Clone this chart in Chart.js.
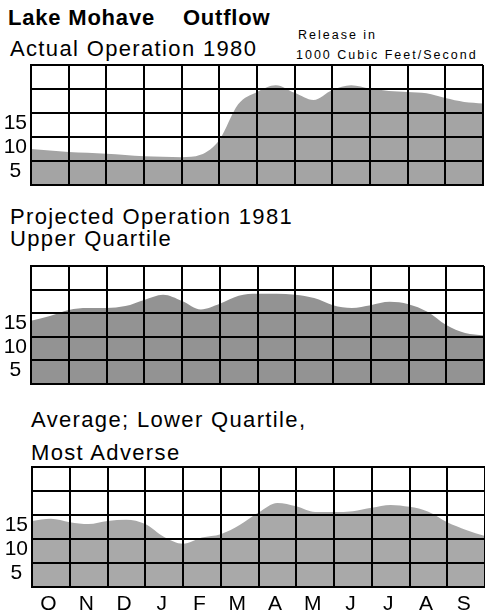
<!DOCTYPE html>
<html>
<head>
<meta charset="utf-8">
<script src="https://cdn.jsdelivr.net/npm/chart.js@4/dist/chart.umd.min.js"></script>
<style>
  html, body { margin: 0; padding: 0; background: #fff; }
  body { width: 485px; height: 616px; position: relative; overflow: hidden; font-family: "Liberation Sans", Arial, sans-serif; color: #000; }
  .t { position: absolute; white-space: pre; font-size: 22px; line-height: 22px; letter-spacing: 1.35px; }
  .b { font-weight: bold; letter-spacing: 0.8px; }
  .s { position: absolute; white-space: pre; font-size: 12.5px; line-height: 12.5px; letter-spacing: 2px; }
  canvas { position: absolute; left: 0; }
</style>
</head>
<body>
<div class="t b" style="left:8px; top:7px;">Lake Mohave <span style="margin-left:21px">Outflow</span></div>
<div class="t" style="left:10px; top:38px;">Actual Operation 1980</div>
<div class="s" style="left:298px; top:29px;">Release in</div>
<div class="s" style="left:296px; top:49px;">1000 Cubic Feet/Second</div>
<div class="t" style="left:10px; top:206px;">Projected Operation 1981</div>
<div class="t" style="left:10px; top:228px;">Upper Quartile</div>
<div class="t" style="left:31px; top:409px;">Average; Lower Quartile,</div>
<div class="t" style="left:31px; top:442px;">Most Adverse</div>

<canvas id="c1" width="485" height="140" style="top:55px;"></canvas>
<canvas id="c2" width="485" height="138" style="top:256px;"></canvas>
<canvas id="c3" width="485" height="159" style="top:457px;"></canvas>

<script>
// ---- data (release in 1000 cfs, sampled every half month from Oct 1 to Sep 30) ----
const months = ['O', 'N', 'D', 'J', 'F', 'M', 'A', 'M', 'J', 'J', 'A', 'S'];
const halfMonths = [0, 0.5, 1, 1.5, 2, 2.5, 3, 3.5, 4, 4.5, 5, 5.5, 6, 6.5, 7, 7.5, 8, 8.5, 9, 9.5, 10, 10.5, 11, 11.5, 12];
const actual1980 = [7.5, 7.2, 6.9, 6.7, 6.5, 6.25, 6.0, 5.9, 5.8, 6.3, 9.4, 16.8, 19.4, 20.8, 19.2, 17.7, 19.8, 20.8, 20.1, 19.6, 19.4, 19.1, 18.1, 17.3, 17.0];
const upperQuartile1981 = [13.4, 14.4, 15.7, 16.1, 16.1, 16.5, 17.8, 18.9, 17.6, 15.8, 17.0, 18.7, 19.1, 19.1, 18.9, 18.2, 16.7, 16.1, 16.7, 17.4, 16.9, 15.3, 12.5, 10.8, 10.3];
const averageLowerAdverse1981 = [13.75, 14.2, 13.5, 13.1, 13.75, 14.0, 13.1, 10.4, 9.0, 10.3, 11.0, 12.9, 15.5, 17.5, 16.8, 15.6, 15.6, 15.8, 16.5, 17.1, 16.7, 15.7, 13.5, 11.9, 10.6];
const yGridValues = [0, 5, 10, 15, 20, 25];
const yTickLabels = [5, 10, 15];
const monthGridValues = [0, 1, 2, 3, 4, 5, 6, 7, 8, 9, 10, 11, 12];

Chart.defaults.font.family = '"Liberation Sans", Arial, sans-serif';
Chart.defaults.color = '#000';

function noPad(s) { s.paddingTop = 0; s.paddingBottom = 0; s.paddingLeft = 0; s.paddingRight = 0; }

function makePanel(id, values, cfg) {
  const pts = halfMonths.map((m, i) => ({ x: m, y: values[i] }));
  return new Chart(document.getElementById(id), {
    type: 'line',
    data: {
      datasets: [{
        data: pts,
        fill: 'origin',
        backgroundColor: cfg.fill,
        borderWidth: 0,
        borderColor: 'rgba(0,0,0,0)',
        pointRadius: 0,
        tension: 0.4,
        cubicInterpolationMode: 'monotone'
      }]
    },
    options: {
      responsive: false,
      animation: false,
      devicePixelRatio: 1,
      layout: { padding: { top: 10, bottom: cfg.padBottom, left: 0, right: cfg.padRight } },
      plugins: { legend: { display: false }, tooltip: { enabled: false }, title: { display: false } },
      scales: {
        x: {
          type: 'linear',
          min: monthGridValues[0], max: monthGridValues[monthGridValues.length - 1],
          afterBuildTicks: s => { s.ticks = monthGridValues.map(v => ({ value: v })); },
          afterFit: s => { s.height = cfg.xHeight; noPad(s); },
          grid: { color: '#000', lineWidth: 2, drawTicks: false, z: 1 },
          border: { display: true, color: '#000', width: 2, z: 1 },
          ticks: {
            display: cfg.showMonths,
            autoSkip: false,
            maxRotation: 0,
            minRotation: 0,
            padding: 5,
            labelOffset: 16.5,
            font: { size: 21 },
            callback: (v) => (Number.isInteger(v) && v < months.length) ? months[v] : ''
          }
        },
        y: {
          min: yGridValues[0], max: yGridValues[yGridValues.length - 1],
          afterBuildTicks: s => { s.ticks = yGridValues.map(v => ({ value: v })); },
          afterFit: s => { s.width = cfg.yWidth; noPad(s); },
          grid: { color: '#000', lineWidth: 2, drawTicks: false, z: 1 },
          border: { display: true, color: '#000', width: 2, z: 1 },
          ticks: {
            autoSkip: false,
            padding: 4,
            crossAlign: 'center',
            labelOffset: 10,
            font: { size: 21 },
            callback: v => yTickLabels.includes(v) ? String(v) : ''
          }
        }
      }
    }
  });
}

makePanel('c1', actual1980, { fill: '#a4a4a4', padBottom: 10, padRight: 2, xHeight: 0, yWidth: 31, showMonths: false });
makePanel('c2', upperQuartile1981, { fill: '#939393', padBottom: 10, padRight: 1, xHeight: 0, yWidth: 31, showMonths: false });
makePanel('c3', averageLowerAdverse1981, { fill: '#a9a9a9', padBottom: 0, padRight: 0, xHeight: 29, yWidth: 32, showMonths: true });
</script>
</body>
</html>
